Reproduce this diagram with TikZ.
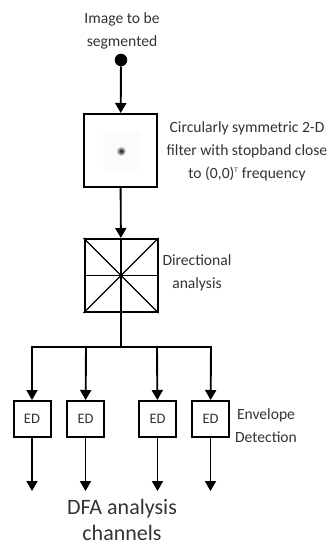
\documentclass[tikz,border=0pt]{standalone}
\usepackage{fontspec}
\setmainfont{Carlito}
\usetikzlibrary{arrows.meta}
\definecolor{txt}{HTML}{333333}
\tikzset{
  lbl/.style={text=txt, font=\fontsize{15.6}{23}\selectfont, align=center, inner sep=0pt},
  big/.style={text=txt, font=\fontsize{22}{26}\selectfont, align=center, inner sep=0pt},
  blk/.style={draw=black, line width=2pt, fill=white, minimum width=73pt, minimum height=73pt, inner sep=0pt},
  edbox/.style={draw=black, line width=2pt, minimum width=37pt, minimum height=36pt, inner sep=0pt, text=txt, font=\fontsize{14.5}{16}\selectfont},
  flow/.style={line width=1.9pt, -{Triangle[width=11pt,length=10pt]}},
  wire/.style={line width=1.9pt}
}
\begin{document}
\begin{tikzpicture}[x=1pt,y=-1pt]
\useasboundingbox (0,0) rectangle (330,548);
\node[lbl] (intxt) at (122,30.5) {Image to be\\segmented};
\node[circle, fill=black, minimum size=12.5pt, inner sep=0pt] (src) at (121,60) {};
\node[blk] (filt) at (120.5,150.5) {};
\fill[black!1.5] (102.5,132.5) rectangle (139.5,169.5);
\shade[inner color=black!95, outer color=black!1.5] (121,151) circle (5pt);
\node[lbl, anchor=center] (filttxt) at (247,151) {Circularly symmetric 2-D\\filter with stopband close\\to (0,0)\textsuperscript{\scriptsize T} frequency};
\node[blk] (dir) at (121,275.5) {};
\draw[line width=1.4pt] (dir.north west) -- (dir.south east) (dir.north east) -- (dir.south west);
\draw[line width=1.9pt] (dir.north) -- (dir.south) (dir.west) -- (dir.east);
\node[blk, fill=none] at (dir) {};
\node[lbl] (dirtxt) at (197,273) {Directional\\analysis};
\coordinate (hub) at (121,347);
\coordinate (b1) at (32,347);
\coordinate (b2) at (86,347);
\coordinate (b3) at (157,347);
\coordinate (b4) at (211,347);
\node[edbox] (e1) at (32,419) {ED};
\node[edbox] (e2) at (85.5,419) {ED};
\node[edbox] (e3) at (157.5,419) {ED};
\node[edbox] (e4) at (210.5,419) {ED};
\node[lbl] (envtxt) at (266,426) {Envelope\\Detection};
\coordinate (o1) at (32,491);
\coordinate (o2) at (85.5,491);
\coordinate (o3) at (157.5,491);
\coordinate (o4) at (210.5,491);
\node[big] (dfa) at (122,520) {DFA analysis\\channels};
\draw[flow] (src) -- (filt);
\draw[flow] (filt) -- (dir);
\draw[wire] (dir) -- (hub);
\draw[wire, line cap=rect] (b1) -- (b4);
\draw[flow] (b1) -- (e1);
\draw[flow] (b2) -- (e2);
\draw[flow] (b3) -- (e3);
\draw[flow] (b4) -- (e4);
\draw[flow] (e1) -- (o1);
\draw[flow] (e2) -- (o2);
\draw[flow] (e3) -- (o3);
\draw[flow] (e4) -- (o4);
\end{tikzpicture}
\end{document}
